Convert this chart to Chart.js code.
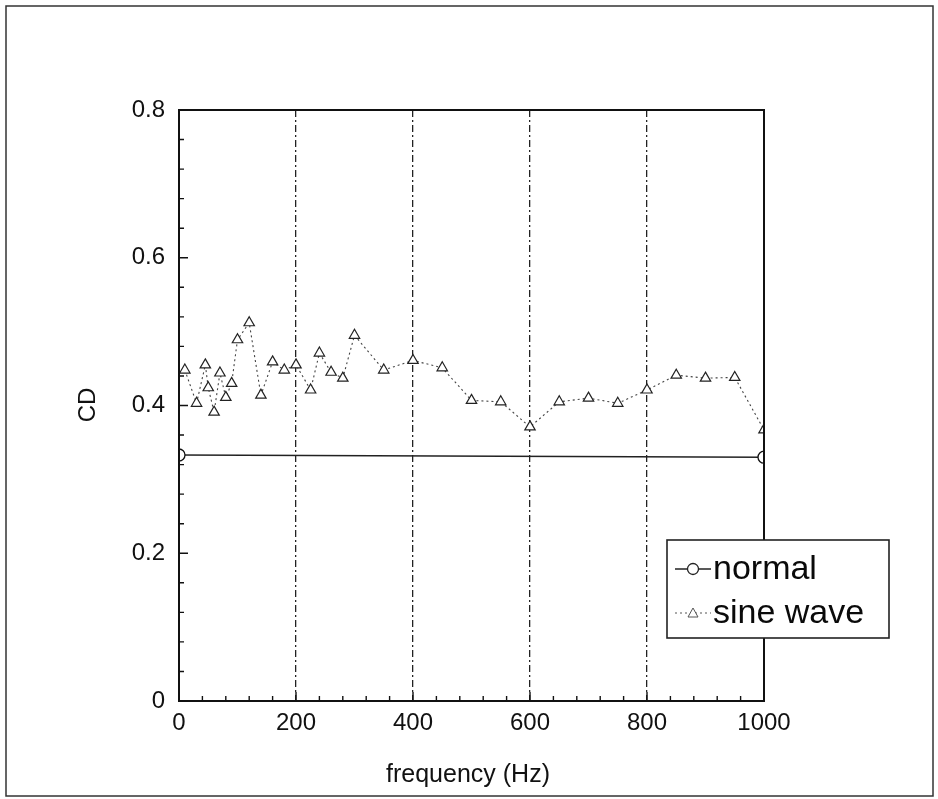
<!DOCTYPE html>
<html>
<head>
<meta charset="utf-8">
<script src="https://cdn.jsdelivr.net/npm/chart.js@4"></script>
<style>
  html, body { margin: 0; padding: 0; background: #fff; }
  canvas { display: block; }
</style>
</head>
<body>
<canvas id="c" width="938" height="799"></canvas>
<script>
// ---- data ----
const normalFreq = [0, 1000];
const normalCD = [0.333, 0.330];

const sineFreq = [10, 30, 45, 50, 60, 70, 80, 90, 100, 120, 140, 160, 180, 200, 225, 240, 260, 280, 300,
                  350, 400, 450, 500, 550, 600, 650, 700, 750, 800, 850, 900, 950, 1000];
const sineCD = [0.448, 0.403, 0.455, 0.424, 0.391, 0.444, 0.411, 0.430, 0.489, 0.512, 0.414, 0.459, 0.448, 0.455, 0.421, 0.471, 0.445, 0.437, 0.495,
                0.448, 0.461, 0.451, 0.407, 0.405, 0.371, 0.405, 0.410, 0.403, 0.421, 0.441, 0.437, 0.438, 0.367];

const xTicks = [0, 200, 400, 600, 800, 1000];
const yTicks = [0, 0.2, 0.4, 0.6, 0.8];
const seriesNames = ['normal', 'sine wave'];
const xTitle = 'frequency (Hz)';
const yTitle = 'CD';

const FONT = '"Liberation Sans", Arial, Helvetica, sans-serif';

const toXY = (xs, ys) => xs.map((x, i) => ({ x: x, y: ys[i] }));

const framePlugin = {
  id: 'frame',
  beforeDraw(chart) {
    const ctx = chart.ctx;
    ctx.save();
    ctx.fillStyle = '#fff';
    ctx.fillRect(0, 0, chart.width, chart.height);
    ctx.strokeStyle = '#333';
    ctx.lineWidth = 1.5;
    ctx.strokeRect(6, 6, 927, 790);
    ctx.restore();
  },
  afterDraw(chart) {
    const ctx = chart.ctx;
    const a = chart.chartArea;
    const xs = chart.scales.x, ys = chart.scales.y;
    ctx.save();
    // plot box
    ctx.strokeStyle = '#111';
    ctx.lineWidth = 2;
    ctx.strokeRect(a.left, a.top, a.right - a.left, a.bottom - a.top);
    // inward ticks
    ctx.lineWidth = 1.4;
    ctx.beginPath();
    for (let v = 0; v <= 1000; v += 40) {
      const px = xs.getPixelForValue(v);
      const len = (v % 200 === 0) ? 9 : 5;
      ctx.moveTo(px, a.bottom);
      ctx.lineTo(px, a.bottom - len);
    }
    for (let k = 0; k <= 20; k++) {
      const v = k * 0.04;
      const py = ys.getPixelForValue(v);
      const len = (k % 5 === 0) ? 9 : 5;
      ctx.moveTo(a.left, py);
      ctx.lineTo(a.left + len, py);
    }
    ctx.stroke();
    // axis titles
    ctx.fillStyle = '#111';
    ctx.font = '25px ' + FONT;
    ctx.textAlign = 'center';
    ctx.textBaseline = 'middle';
    ctx.fillText(xTitle, 468, 775);
    ctx.save();
    ctx.translate(88, 405);
    ctx.rotate(-Math.PI / 2);
    ctx.font = '24px ' + FONT;
    ctx.fillText(yTitle, 0, 0);
    ctx.restore();
    // legend
    const lx = 667, ly = 540, lw = 222, lh = 98;
    ctx.fillStyle = '#fff';
    ctx.fillRect(lx, ly, lw, lh);
    ctx.strokeStyle = '#222';
    ctx.lineWidth = 1.6;
    ctx.strokeRect(lx, ly, lw, lh);
    // normal sample
    const r1 = 569, r2 = 613;
    ctx.lineWidth = 1.3;
    ctx.setLineDash([]);
    ctx.beginPath();
    ctx.moveTo(675, r1); ctx.lineTo(711, r1);
    ctx.stroke();
    ctx.beginPath();
    ctx.arc(693, r1, 5.5, 0, Math.PI * 2);
    ctx.fillStyle = '#fff';
    ctx.fill();
    ctx.stroke();
    // sine sample
    ctx.strokeStyle = '#555';
    ctx.lineWidth = 1;
    ctx.setLineDash([2, 3]);
    ctx.beginPath();
    ctx.moveTo(675, r2); ctx.lineTo(711, r2);
    ctx.stroke();
    ctx.setLineDash([]);
    ctx.beginPath();
    ctx.moveTo(693, r2 - 5); ctx.lineTo(698, r2 + 4); ctx.lineTo(688, r2 + 4); ctx.closePath();
    ctx.fillStyle = '#fff';
    ctx.fill();
    ctx.stroke();
    ctx.fillStyle = '#0a0a0a';
    ctx.font = '34px ' + FONT;
    ctx.textAlign = 'left';
    ctx.textBaseline = 'middle';
    ctx.fillText(seriesNames[0], 713, r1 + 1);
    ctx.fillText(seriesNames[1], 713, r2 + 1);
    ctx.restore();
  }
};

new Chart(document.getElementById('c'), {
  type: 'scatter',
  data: {
    datasets: [
      {
        label: seriesNames[0],
        data: toXY(normalFreq, normalCD),
        showLine: true,
        borderColor: '#222',
        borderWidth: 1.4,
        pointStyle: 'circle',
        pointRadius: 6,
        pointBackgroundColor: '#fff',
        pointBorderColor: '#111',
        pointBorderWidth: 1.3,
        order: 2
      },
      {
        label: seriesNames[1],
        data: toXY(sineFreq, sineCD),
        showLine: true,
        borderColor: '#444',
        borderWidth: 1.1,
        borderDash: [2, 3],
        pointStyle: 'triangle',
        pointRadius: 6,
        pointBackgroundColor: '#fff',
        pointBorderColor: '#222',
        pointBorderWidth: 1.2,
        order: 1
      }
    ]
  },
  options: {
    responsive: false,
    animation: false,
    devicePixelRatio: 1,
    layout: { padding: { left: 0, right: 174, top: 110, bottom: 0 } },
    plugins: {
      legend: { display: false },
      tooltip: { enabled: false }
    },
    scales: {
      x: {
        type: 'linear',
        min: 0, max: 1000,
        afterBuildTicks(s) { s.ticks = xTicks.map(v => ({ value: v })); },
        afterFit(s) { s.height = 98; },
        ticks: {
          font: { family: FONT, size: 24 },
          color: '#111',
          padding: 8,
          maxRotation: 0,
          callback: v => String(v)
        },
        grid: {
          drawTicks: false,
          color: ctx => (ctx.tick && ctx.tick.value > 0 && ctx.tick.value < 1000) ? '#222' : 'rgba(0,0,0,0)',
          lineWidth: 1.3,
          tickLength: 0
        },
        border: { display: false, dash: [7, 3, 2, 3] },
        title: { display: false }
      },
      y: {
        type: 'linear',
        min: 0, max: 0.8,
        afterBuildTicks(s) { s.ticks = yTicks.map(v => ({ value: v })); },
        afterFit(s) { s.width = 179; },
        ticks: {
          font: { family: FONT, size: 24 },
          color: '#111',
          padding: 14,
          callback: v => (v === 0 ? '0' : v.toFixed(1))
        },
        grid: { display: false, drawTicks: false },
        border: { display: false },
        title: { display: false }
      }
    }
  },
  plugins: [framePlugin]
});
</script>
</body>
</html>
